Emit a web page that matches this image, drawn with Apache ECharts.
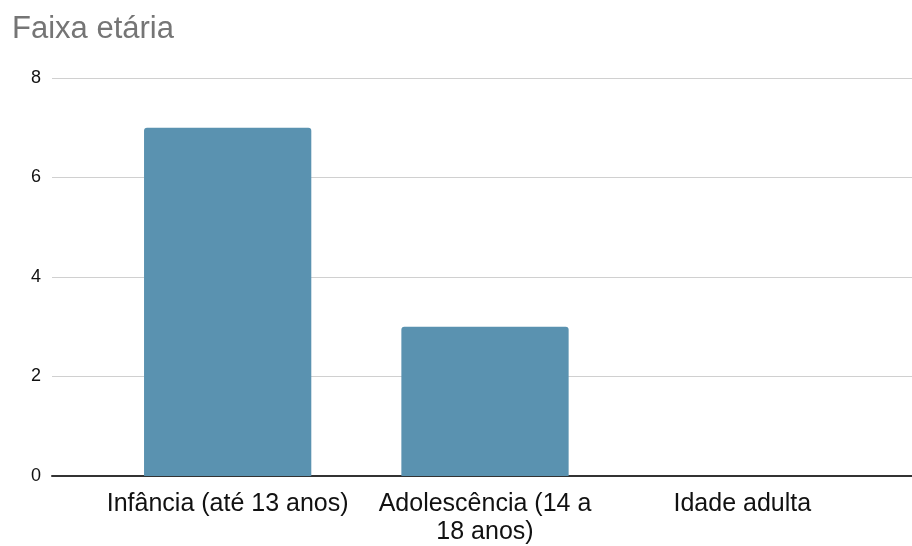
<!DOCTYPE html>
<html>
<head>
<meta charset="utf-8">
<script src="https://cdn.jsdelivr.net/npm/echarts@6/dist/echarts.min.js"></script>
<style>
  html, body { margin: 0; padding: 0; background: #fff; }
  #chart { width: 912px; height: 546px; }
</style>
</head>
<body>
<div id="chart"></div>
<script>
// Age-group counts
const categories = ['Infância (até 13 anos)', 'Adolescência (14 a 18 anos)', 'Idade adulta'];
const counts = [7, 3, 0];
const yTicks = { min: 0, max: 8, interval: 2 };

const font = '"Liberation Sans", Arial, sans-serif';
const labelSize = 25;
const labelMaxWidth = 244;

// greedy word wrap for category labels, measured with the label font
const measureCtx = document.createElement('canvas').getContext('2d');
measureCtx.font = labelSize + 'px ' + font;
function wrapLabel(text) {
  const words = text.split(' ');
  const lines = [];
  let line = '';
  words.forEach(w => {
    const probe = line ? line + ' ' + w : w;
    if (line && measureCtx.measureText(probe).width > labelMaxWidth) {
      lines.push(line);
      line = w;
    } else {
      line = probe;
    }
  });
  if (line) lines.push(line);
  return lines.join('\n');
}

const chart = echarts.init(document.getElementById('chart'), null, { renderer: 'canvas' });

chart.setOption({
  animation: false,
  title: {
    text: 'Faixa etária',
    left: 7, top: 9,
    textStyle: { fontFamily: font, fontSize: 31, fontWeight: 'normal', color: '#757575' }
  },
  grid: [
    // full-width grid carrying value labels, gridlines and baseline
    { left: 52, right: 0, top: 78, bottom: 70 },
    // inner grid holding the bars
    { left: 99, right: 41, top: 78, bottom: 70 }
  ],
  xAxis: [
    {
      gridIndex: 0, type: 'category', data: [''],
      axisLine: { show: true, lineStyle: { color: '#333', width: 2 } },
      axisTick: { show: false }, axisLabel: { show: false }
    },
    {
      gridIndex: 1, type: 'category', data: categories,
      axisLine: { show: false }, axisTick: { show: false },
      axisLabel: {
        fontFamily: font, fontSize: labelSize, color: '#111', margin: 14,
        lineHeight: 28, interval: 0, hideOverlap: false,
        formatter: wrapLabel
      }
    }
  ],
  yAxis: [
    {
      gridIndex: 0, type: 'value', min: yTicks.min, max: yTicks.max, interval: yTicks.interval,
      axisLine: { show: false }, axisTick: { show: false },
      axisLabel: { fontFamily: font, fontSize: 18, color: '#111', margin: 11 },
      splitLine: { lineStyle: { color: '#d0d0d0', width: 1 } }
    },
    {
      gridIndex: 1, type: 'value', min: yTicks.min, max: yTicks.max, interval: yTicks.interval,
      axisLine: { show: false }, axisTick: { show: false },
      axisLabel: { show: false }, splitLine: { show: false }
    }
  ],
  series: [{
    type: 'bar',
    xAxisIndex: 1, yAxisIndex: 1,
    data: counts,
    barWidth: '65%',
    itemStyle: { color: '#5a92b0', borderRadius: [3, 3, 0, 0] },
    z: 1
  }]
});
</script>
</body>
</html>
